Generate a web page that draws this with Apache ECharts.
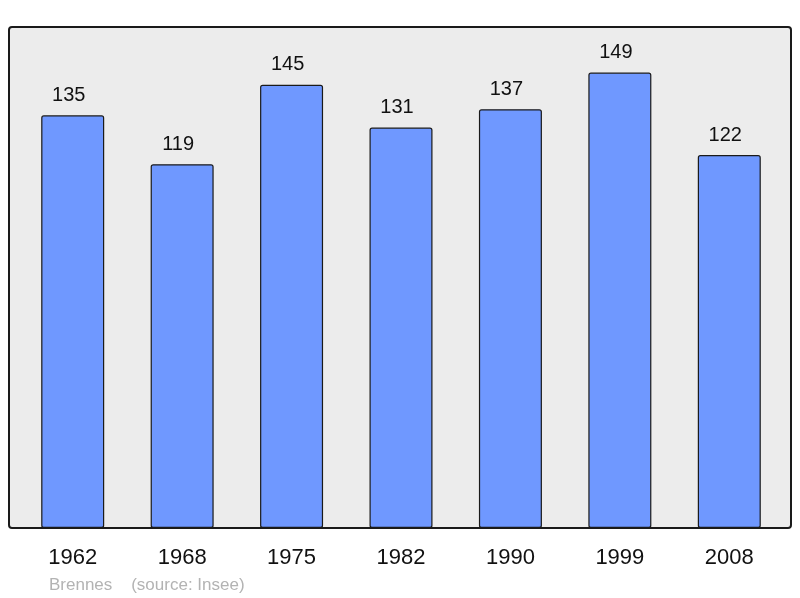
<!DOCTYPE html>
<html>
<head>
<meta charset="utf-8">
<script src="https://cdn.jsdelivr.net/npm/echarts@6/dist/echarts.min.js"></script>
<style>html,body{margin:0;padding:0;background:#fff;}#c{width:800px;height:598px;}</style>
</head>
<body>
<div id="c"></div>
<script>
var years = ['1962','1968','1975','1982','1990','1999','2008'];
var population = [135,119,145,131,137,149,122];
var footer = 'Brennes    (source: Insee)';

var chart = echarts.init(document.getElementById('c'), null, {renderer:'canvas'});
chart.setOption({
  animation:false,
  backgroundColor:'#ffffff',
  textStyle:{fontFamily:'Liberation Sans, Arial, sans-serif'},
  graphic:[
    {type:'rect', z:-10, shape:{x:9,y:27,width:782,height:501,r:3},
     style:{fill:'#ececec',stroke:'#1a1a1a',lineWidth:2}},
    {type:'text', left:49, top:577, z:10,
     style:{text:footer, fill:'#b3b3b3', font:'17px "Liberation Sans", Arial, sans-serif'}}
  ],
  grid:{left:18, top:27, width:766, height:501},
  xAxis:{type:'category', data:years,
    axisLine:{show:false}, axisTick:{show:false},
    axisLabel:{color:'#111', fontSize:22, margin:19, fontFamily:'Liberation Sans, Arial, sans-serif'}},
  yAxis:{type:'value', min:0, max:149*1.1, show:false, splitLine:{show:false}},
  series:[{type:'bar', data:population, barWidth:63,
    itemStyle:{color:'#6f98ff', borderColor:'#1a1a1a', borderWidth:1.2, borderRadius:2},
    label:{show:true, position:'top', distance:10, offset:[-4,0], color:'#111', fontSize:20,
      fontFamily:'Liberation Sans, Arial, sans-serif'}}]
});
</script>
</body>
</html>
